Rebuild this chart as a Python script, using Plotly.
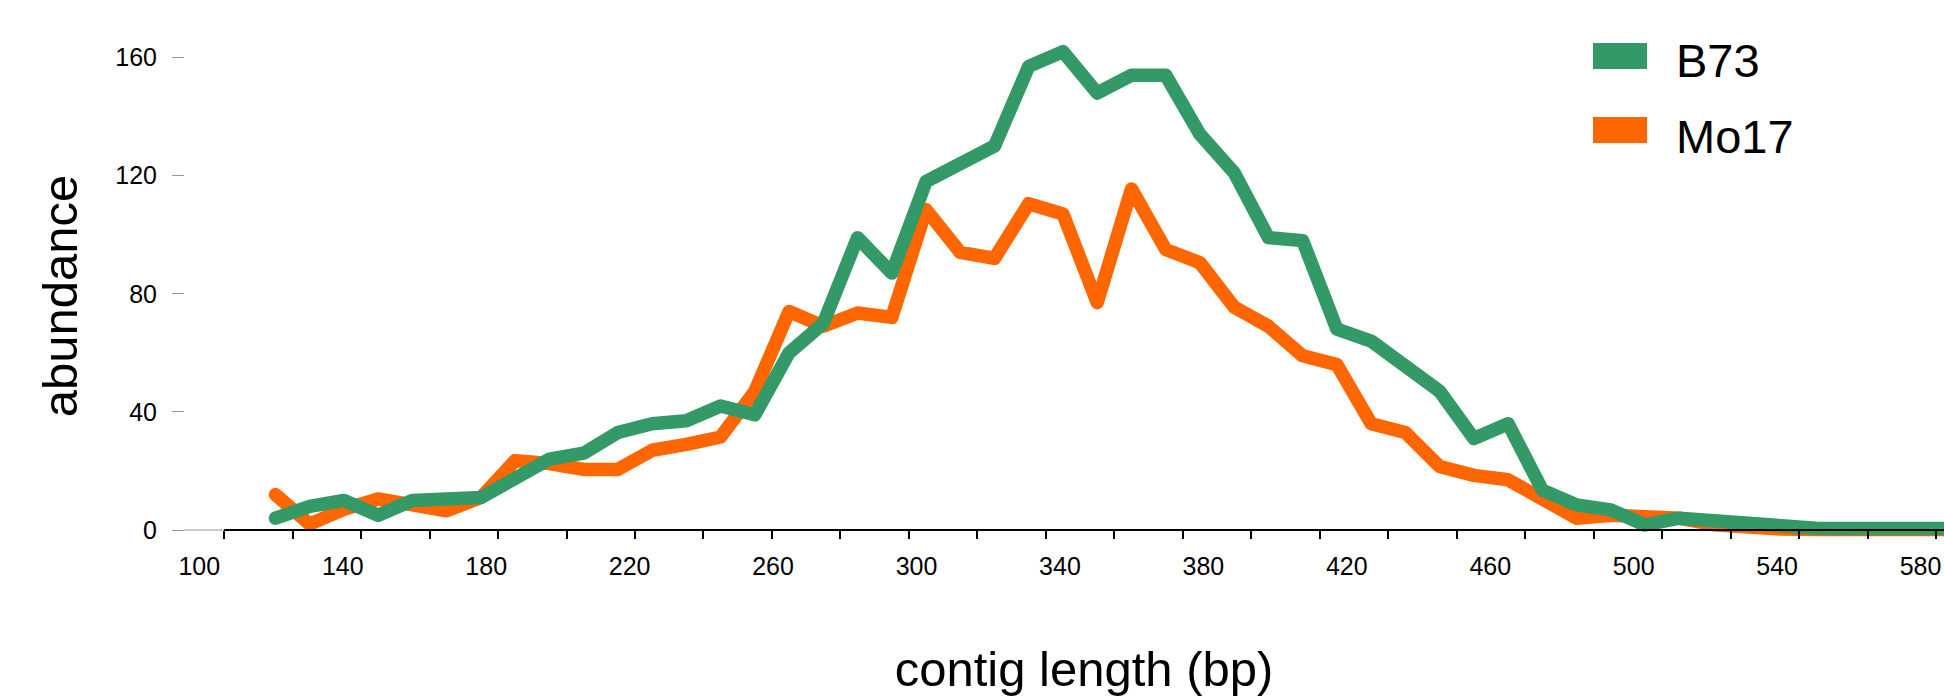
import plotly.graph_objects as go

# ---- data ----
contig_length = [120, 130, 140, 150, 160, 170, 180, 190, 200, 210, 220, 230, 240, 250, 260,
                 270, 280, 290, 300, 310, 320, 330, 340, 350, 360, 370, 380, 390, 400, 410,
                 420, 430, 440, 450, 460, 470, 480, 490, 500, 510, 520, 530, 540, 550, 560,
                 570, 580, 590, 600, 610]
b73 = [4, 8, 10, 5, 10, 11, 11, 17.5, 24, 26, 33, 36, 37, 42, 39,
       60, 70, 99, 87, 118, 124, 130, 157, 162, 148, 154, 154, 134, 121, 99,
       98, 68, 64, 55, 47, 31, 36, 13.5, 8.5, 6.8, 1.7, 4, 3, 2, 1.1,
       0.6, 0.5, 0.5, 0.5, 0.5]
mo17 = [12, 2, 7, 10.5, 8.5, 6.5, 11, 23.5, 22.5, 20.5, 20.5, 27, 29, 31.5, 47,
        74, 69, 73.5, 72, 108.5, 94, 92, 110.5, 107, 77, 115.5, 95, 90.5, 75.5, 69,
        59, 56, 36, 33, 21.5, 18.5, 17, 10, 4, 5, 4.5, 4, 1.8, 0.6, 0.3,
        0.2, 0.2, 0.2, 0.2, 0.2]
series_names = ["B73", "Mo17"]
series_colors = ["#339966", "#ff6600"]
x_tick_labels = [100, 140, 180, 220, 260, 300, 340, 380, 420, 460, 500, 540, 580]
y_tick_values = [0, 40, 80, 120, 160]

FONT = "Arial, Liberation Sans, sans-serif"

W, H = 1944, 696


def fx(px):  # screen x px -> paper fraction
    return px / W


def fy(px):  # screen y px -> paper fraction
    return 1 - px / H


# ---- layout geometry (screen pixels) ----
plot_left_px = 224.1      # first x tick
label_left_px = 170.0
yaxis_px = 184.0
y_top_px, y_bot_px = 40.0, 552.0
y0_px = 530.0
y_px_per_unit = 2.953
x_px_per_unit = 3.424      # data axis
lab_px_per_unit = 3.586    # label axis
lab100_px = 199.3

y_range = [-(y_bot_px - y0_px) / y_px_per_unit, (y0_px - y_top_px) / y_px_per_unit]
x_range = [105, 105 + (W - plot_left_px) / x_px_per_unit]
x2_range = [100 + (label_left_px - lab100_px) / lab_px_per_unit,
            100 + (W - lab100_px) / lab_px_per_unit]
axis_pos = fy(y0_px)

fig = go.Figure()

# data traces (orange below green)
for name, vals, col in [(series_names[1], mo17, series_colors[1]),
                        (series_names[0], b73, series_colors[0])]:
    fig.add_trace(go.Scatter(x=contig_length, y=vals, mode="lines", name=name,
                             line=dict(color=col, width=13.5, shape="linear"),
                             showlegend=False))

# helper trace so the label axis is drawn
fig.add_trace(go.Scatter(x=[None], y=[None], xaxis="x2", yaxis="y", showlegend=False,
                         hoverinfo="skip"))

# legend (swatches + labels)
legend_rows = [(43, 69, 62), (117, 143, 138)]
shapes = [dict(type="line", xref="paper", yref="y", x0=fx(yaxis_px), x1=fx(plot_left_px),
               y0=0, y1=0, line=dict(color="#999999", width=1))]
annotations = []
for (top, bot, tc), name, col in zip(legend_rows, series_names, series_colors):
    shapes.append(dict(type="rect", xref="paper", yref="paper",
                       x0=fx(1593), x1=fx(1647), y0=fy(bot), y1=fy(top),
                       fillcolor=col, line=dict(width=0)))
    annotations.append(dict(text=name, xref="paper", yref="paper", x=fx(1674), y=fy(tc - 2),
                            xanchor="left", yanchor="middle", showarrow=False,
                            font=dict(size=47, family=FONT, color="black")))

fig.update_layout(
    width=W, height=H,
    margin=dict(l=0, r=0, t=0, b=0),
    paper_bgcolor="white", plot_bgcolor="rgba(0,0,0,0)",
    font=dict(family=FONT, color="black"),
    showlegend=False,
    xaxis=dict(
        domain=[fx(plot_left_px), 1], range=x_range,
        anchor="free", position=axis_pos,
        showgrid=False, zeroline=False,
        showline=True, linecolor="black", linewidth=2,
        ticks="outside", tick0=105, dtick=20, ticklen=8, tickwidth=2, tickcolor="black",
        showticklabels=False,
        title=dict(text="contig length (bp)", font=dict(size=49, family=FONT), standoff=115),
    ),
    xaxis2=dict(
        domain=[fx(label_left_px), 1], range=x2_range,
        anchor="free", position=axis_pos,
        showgrid=False, zeroline=False, showline=False, ticks="",
        tickmode="array", tickvals=x_tick_labels, ticktext=[str(v) for v in x_tick_labels],
        tickfont=dict(size=25, family=FONT, color="black"),
        ticklabelstandoff=19,
    ),
    yaxis=dict(
        domain=[fy(y_bot_px), fy(y_top_px)], range=y_range,
        anchor="free", position=fx(yaxis_px),
        showgrid=False, zeroline=False, showline=False,
        ticks="outside", ticklen=12, tickwidth=1, tickcolor="#999999",
        tickmode="array", tickvals=y_tick_values,
        tickfont=dict(size=25, family=FONT, color="black"),
        ticklabelstandoff=10,
        title=dict(text="abundance", font=dict(size=49, family=FONT), standoff=21),
    ),
    shapes=shapes,
    annotations=annotations,
)

post = (
    "document.body.style.margin='0';document.body.style.overflow='hidden';"
    "var s=document.createElement('style');"
    "s.textContent='.scatterlayer path.js-line{stroke-linejoin:round !important;"
    "stroke-linecap:round !important;}';"
    "document.head.appendChild(s);"
)
fig.write_html("out.html", config={"displayModeBar": False}, post_script=post)
